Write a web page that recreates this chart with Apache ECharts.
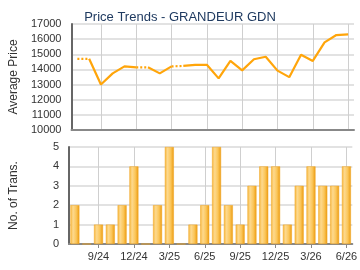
<!DOCTYPE html>
<html>
<head>
<meta charset="utf-8">
<script src="https://cdn.jsdelivr.net/npm/echarts@6/dist/echarts.min.js"></script>
<style>html,body{margin:0;padding:0;background:#fff;}#c{width:360px;height:270px;}</style>
</head>
<body>
<div id="c"></div>
<script>
var months = ['7/24','8/24','9/24','10/24','11/24','12/24','1/25','2/25','3/25','4/25','5/25','6/25','7/25','8/25','9/25','10/25','11/25','12/25','1/26','2/26','3/26','4/26','5/26','6/26'];
var avgPrice = [14700,14700,13000,13740,14200,14140,14140,13740,14200,14230,14300,14310,13410,14560,13940,14670,14840,13920,13490,14970,14560,15790,16270,16320];
var transactions = [2,0,1,1,2,4,0,2,5,0,1,2,5,2,1,3,4,4,1,3,4,3,3,4];
var priceTicks = [10000,11000,12000,13000,14000,15000,16000,17000];
var transTicks = [0,1,2,3,4,5];
var labelMonths = ['9/24','12/24','3/25','6/25','9/25','12/25','3/26','6/26'];

var ORANGE = '#FFA50A';
var runs = [];
for (var i = 1; i < months.length; i++) {
  var dotted = transactions[i] === 0;
  var last = runs[runs.length - 1];
  if (last && last.dotted === dotted && last.end === i - 1) { last.end = i; }
  else { runs.push({dotted: dotted, start: i - 1, end: i}); }
}
var lineSeries = runs.map(function (r) {
  var d = avgPrice.map(function (v, k) { return (k >= r.start && k <= r.end) ? v : null; });
  return {
    type: 'line', xAxisIndex: 0, yAxisIndex: 0, data: d, symbol: 'none',
    connectNulls: false, silent: true,
    lineStyle: {color: ORANGE, width: 2.2, type: r.dotted ? [2, 2] : 'solid'}
  };
});

var labelInterval = function (idx, val) { return labelMonths.indexOf(months[idx]) >= 0; };
var plain = function (v) { return String(v); };

var chart = echarts.init(document.getElementById('c'), null, {renderer: 'canvas'});
var axisLabelStyle = {color: '#333', fontSize: 11, fontFamily: 'Liberation Sans, Arial, sans-serif'};
var nameStyle = {color: '#333', fontSize: 12, fontFamily: 'Liberation Sans, Arial, sans-serif'};
chart.setOption({
  animation: false,
  backgroundColor: '#fff',
  title: {
    text: 'Price Trends - GRANDEUR GDN', left: 'center', top: 6,
    textStyle: {color: '#1f3a60', fontSize: 13, fontWeight: 'normal', fontFamily: 'Liberation Sans, Arial, sans-serif'}
  },
  grid: [
    {left: 65, width: 289, top: 24, height: 106},
    {left: 65, width: 289, top: 147, height: 97}
  ],
  xAxis: [
    {
      type: 'category', gridIndex: 0, data: months, boundaryGap: true,
      axisLine: {lineStyle: {color: '#888', width: 2}},
      axisTick: {show: false}, axisLabel: {show: false},
      splitLine: {show: true, interval: labelInterval, alignWithLabel: true, lineStyle: {color: '#cfcfcf', width: 1}}
    },
    {
      type: 'category', gridIndex: 1, data: months, boundaryGap: true,
      axisLine: {lineStyle: {color: '#888', width: 2}},
      axisTick: {show: true, interval: labelInterval, alignWithLabel: true, length: 4, lineStyle: {color: '#888', width: 1}},
      axisLabel: Object.assign({interval: labelInterval, margin: 7}, axisLabelStyle),
      splitLine: {show: true, interval: labelInterval, alignWithLabel: true, lineStyle: {color: '#cfcfcf', width: 1}}
    }
  ],
  yAxis: [
    {
      type: 'value', gridIndex: 0, min: priceTicks[0], max: priceTicks[priceTicks.length - 1], interval: 1000,
      name: 'Average Price', nameLocation: 'middle', nameGap: 49, nameTextStyle: nameStyle,
      axisLine: {show: true, lineStyle: {color: '#666', width: 2}},
      axisTick: {show: false},
      axisLabel: Object.assign({margin: 10, formatter: plain}, axisLabelStyle),
      splitLine: {lineStyle: {color: '#e2e2e2', width: 2}}
    },
    {
      type: 'value', gridIndex: 1, min: transTicks[0], max: transTicks[transTicks.length - 1], interval: 1,
      name: 'No. of Trans.', nameLocation: 'middle', nameGap: 49, nameTextStyle: nameStyle,
      axisLine: {show: true, lineStyle: {color: '#666', width: 2}},
      axisTick: {show: false},
      axisLabel: Object.assign({margin: 10, formatter: plain}, axisLabelStyle),
      splitLine: {lineStyle: {color: '#e2e2e2', width: 2}}
    }
  ],
  series: lineSeries.concat([{
    type: 'bar', xAxisIndex: 1, yAxisIndex: 1, data: transactions, barWidth: 9, silent: true,
    itemStyle: {
      color: new echarts.graphic.LinearGradient(0, 0, 1, 0, [
        {offset: 0, color: '#f7b73c'},
        {offset: 0.3, color: '#fdd98e'},
        {offset: 0.65, color: '#fbc65a'},
        {offset: 1, color: '#eb9a0e'}
      ]),
      borderColor: '#f0a520', borderWidth: 0.5
    }
  }])
});
</script>
</body>
</html>
